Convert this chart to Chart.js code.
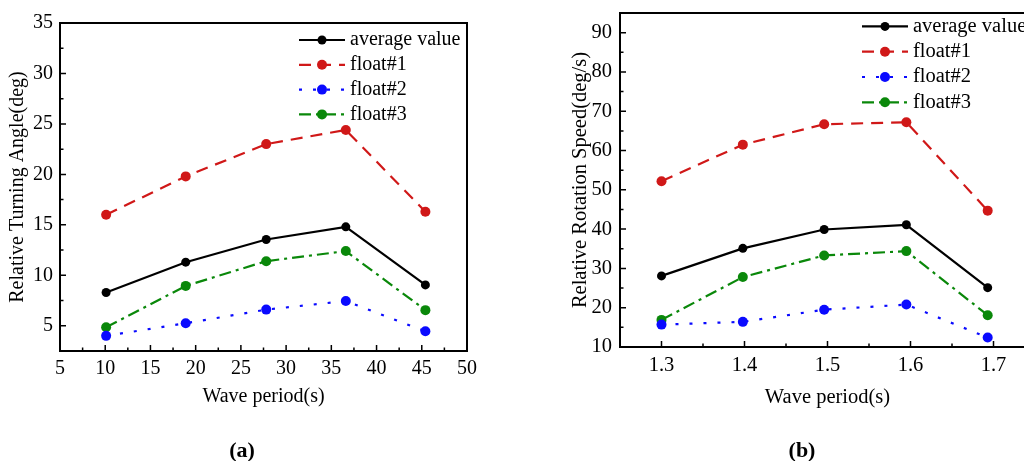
<!DOCTYPE html>
<html>
<head>
<meta charset="utf-8">
<script src="https://cdn.jsdelivr.net/npm/chart.js@4.4.0/dist/chart.umd.min.js"></script>
<style>
  html, body { margin: 0; padding: 0; background: #fff; overflow: hidden; }
  body { width: 1024px; height: 461px; position: relative; }
  canvas { position: absolute; top: 0; }
  #chartA { left: 0; }
  #chartB { left: 540px; }
  .tag { position: absolute; top: 437px; line-height: 26px; font: bold 22px 'Liberation Serif', 'Times New Roman', serif; transform: translateX(-50%); }
</style>
</head>
<body>
<canvas id="chartA" width="500" height="461"></canvas>
<canvas id="chartB" width="540" height="461"></canvas>
<div class="tag" style="left:242px">(a)</div>
<div class="tag" style="left:802px">(b)</div>
<script>
// (a) relative turning angle vs wave period
const aPeriod = [10.1, 18.9, 27.8, 36.6, 45.4];
const aAverage = [8.3, 11.3, 13.55, 14.8, 9.05];
const aFloat1 = [16.0, 19.8, 23.0, 24.4, 16.3];
const aFloat2 = [4.0, 5.25, 6.6, 7.45, 4.45];
const aFloat3 = [4.85, 8.95, 11.4, 12.4, 6.55];
const aXTicks = [5, 10, 15, 20, 25, 30, 35, 40, 45, 50];
const aYTicks = [5, 10, 15, 20, 25, 30, 35];

// (b) relative rotation speed vs wave period
const bPeriod = [1.3, 1.398, 1.496, 1.595, 1.693];
const bAverage = [28.1, 35.1, 39.9, 41.1, 25.1];
const bFloat1 = [52.2, 61.5, 66.7, 67.2, 44.7];
const bFloat2 = [15.7, 16.4, 19.5, 20.8, 12.4];
const bFloat3 = [16.9, 27.8, 33.3, 34.4, 18.1];
const bXTicks = [1.3, 1.4, 1.5, 1.6, 1.7];
const bYTicks = [10, 20, 30, 40, 50, 60, 70, 80, 90];

const labels = ['average value', 'float#1', 'float#2', 'float#3'];

Chart.defaults.font.family = "'Liberation Serif', 'Times New Roman', serif";
Chart.defaults.color = '#000';

// box around the plot plus inward major/minor ticks on the left and bottom
const frameAndTicks = {
    id: 'frameAndTicks',
    afterDraw(chart) {
        const {ctx, chartArea: a, scales: {x, y}} = chart;
        ctx.save();
        ctx.strokeStyle = '#000';
        ctx.lineWidth = 2;
        ctx.strokeRect(a.left, a.top, a.right - a.left, a.bottom - a.top);
        ctx.lineWidth = 1.5;
        const withMinor = scale => {
            const vals = scale.ticks.map(t => t.value);
            const step = vals[1] - vals[0];
            const out = [];
            vals.forEach(v => out.push([v, 6]));
            for (let v = vals[0] - step / 2; v <= scale.max + 1e-9; v += step) {
                if (v >= scale.min - 1e-9) out.push([v, 3.5]);
            }
            return out;
        };
        ctx.beginPath();
        withMinor(x).forEach(([v, len]) => {
            const px = x.getPixelForValue(v);
            if (px > a.left + 1 && px < a.right - 1) {
                ctx.moveTo(px, a.bottom);
                ctx.lineTo(px, a.bottom - len);
            }
        });
        withMinor(y).forEach(([v, len]) => {
            const py = y.getPixelForValue(v);
            if (py > a.top + 1 && py < a.bottom - 1) {
                ctx.moveTo(a.left, py);
                ctx.lineTo(a.left + len, py);
            }
        });
        ctx.stroke();
        ctx.restore();
    }
};

// legend drawn inside the plot, top right
const insideLegend = {
    id: 'insideLegend',
    afterDatasetsDraw(chart, args, opts) {
        const {ctx, chartArea: a} = chart;
        chart.data.datasets.forEach((ds, i) => {
            const y = a.top + opts.top + i * opts.gap;
            const x0 = a.left + opts.left;
            ctx.save();
            ctx.strokeStyle = ds.borderColor;
            ctx.lineWidth = ds.borderWidth;
            ctx.setLineDash(ds.borderDash || []);
            ctx.beginPath();
            ctx.moveTo(x0, y);
            ctx.lineTo(x0 + 46, y);
            ctx.stroke();
            ctx.setLineDash([]);
            ctx.fillStyle = ds.pointBackgroundColor;
            ctx.beginPath();
            ctx.arc(x0 + 23, y, ds.pointRadius, 0, Math.PI * 2);
            ctx.fill();
            ctx.fillStyle = '#000';
            ctx.font = opts.font;
            ctx.textBaseline = 'middle';
            ctx.fillText(ds.label, x0 + 51, y);
            ctx.restore();
        });
    }
};

function series(label, xs, ys, color, dash, radius) {
    return {
        label: label,
        data: xs.map((x, i) => ({x: x, y: ys[i]})),
        borderColor: color,
        backgroundColor: color,
        pointBackgroundColor: color,
        pointBorderColor: color,
        pointBorderWidth: 0,
        pointRadius: radius,
        borderWidth: 2.2,
        borderDash: dash,
        tension: 0
    };
}

function makeChart(id, xs, ys, cfg) {
    const datasets = [
        series(labels[0], xs, ys[0], '#000000', [], 4.5),
        series(labels[1], xs, ys[1], '#d01818', [12, 8], 5),
        series(labels[2], xs, ys[2], '#0a0aff', [3, 11], 5),
        series(labels[3], xs, ys[3], '#0a880a', [12, 5, 3, 5], 5)
    ];
    const fs = cfg.fontSize;
    new Chart(document.getElementById(id), {
        type: 'line',
        data: {datasets: datasets},
        plugins: [frameAndTicks, insideLegend],
        options: {
            responsive: false,
            animation: false,
            layout: {padding: cfg.padding},
            plugins: {
                legend: {display: false},
                tooltip: {enabled: false},
                insideLegend: cfg.legend
            },
            scales: {
                x: {
                    type: 'linear',
                    min: cfg.xMin,
                    max: cfg.xMax,
                    afterBuildTicks: s => { s.ticks = cfg.xTicks.map(v => ({value: v})); },
                    afterFit: s => { s.height = cfg.xHeight; },
                    grid: {display: false, drawTicks: false},
                    border: {display: false},
                    ticks: {font: {size: fs}, padding: 6, maxRotation: 0, callback: cfg.xFormat},
                    title: {display: true, text: 'Wave period(s)', font: {size: fs}, padding: {top: 4, bottom: 4}}
                },
                y: {
                    min: cfg.yMin,
                    max: cfg.yMax,
                    afterBuildTicks: s => { s.ticks = cfg.yTicks.map(v => ({value: v})); },
                    afterFit: s => {
                        s.width = cfg.yWidth;
                        s.paddingTop = 0;
                        s.paddingBottom = 0;
                    },
                    grid: {display: false, drawTicks: false},
                    border: {display: false},
                    ticks: {font: {size: fs}, padding: cfg.yPad},
                    title: {display: true, text: cfg.yTitle, font: {size: fs}, padding: {top: 4, bottom: 4}}
                }
            }
        }
    });
}

makeChart('chartA', aPeriod, [aAverage, aFloat1, aFloat2, aFloat3], {
    fontSize: 20,
    padding: {left: 2, top: 23, right: 33, bottom: 48},
    xMin: 5, xMax: 50, xTicks: aXTicks, xHeight: 62, xFormat: v => String(v),
    yMin: 2.5, yMax: 35, yTicks: aYTicks, yWidth: 58, yPad: 7,
    yTitle: 'Relative Turning Angle(deg)',
    legend: {left: 239, top: 17, gap: 24.8, font: "20px 'Liberation Serif', 'Times New Roman', serif"}
});

makeChart('chartB', bPeriod, [bAverage, bFloat1, bFloat2, bFloat3], {
    fontSize: 20.5,
    padding: {left: 24, top: 13, right: 45, bottom: 47},
    xMin: 1.25, xMax: 1.75, xTicks: bXTicks, xHeight: 67, xFormat: v => v.toFixed(1),
    yMin: 10, yMax: 95, yTicks: bYTicks, yWidth: 56, yPad: 8,
    yTitle: 'Relative Rotation Speed(deg/s)',
    legend: {left: 242, top: 13.4, gap: 25.3, font: "20.5px 'Liberation Serif', 'Times New Roman', serif"}
});
</script>
</body>
</html>
